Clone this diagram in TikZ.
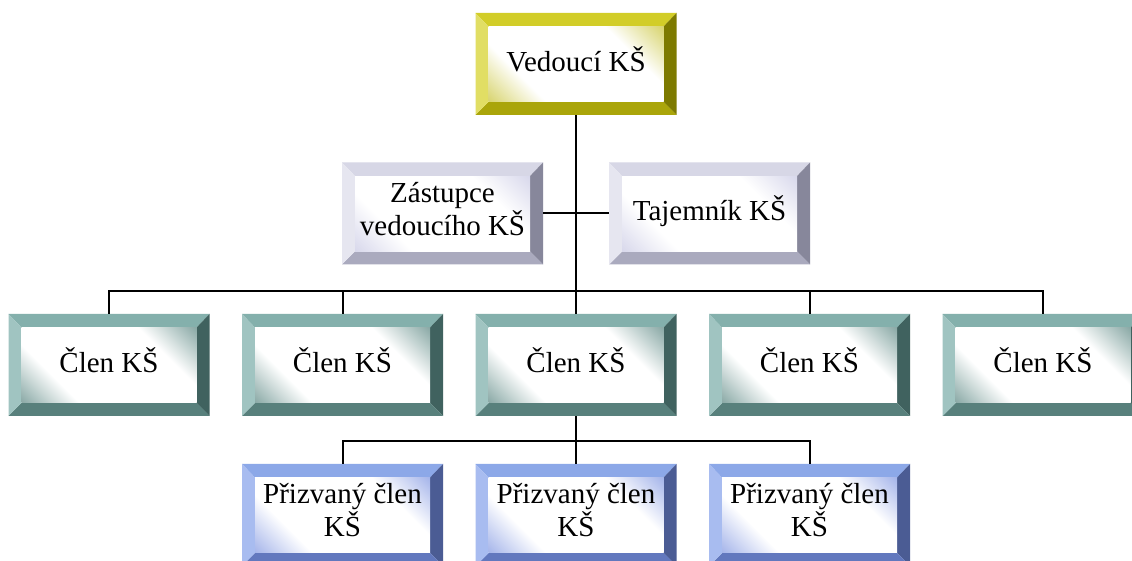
\documentclass[tikz,border=0pt]{standalone}
\usepackage{fontspec}
\setmainfont{Liberation Serif}
\usetikzlibrary{calc}
\definecolor{yT}{RGB}{210,205,40}
\definecolor{yL}{RGB}{225,222,100}
\definecolor{yR}{RGB}{125,122,0}
\definecolor{yB}{RGB}{170,165,10}
\definecolor{yM}{RGB}{205,200,70}
\definecolor{lT}{RGB}{215,215,230}
\definecolor{lL}{RGB}{230,230,240}
\definecolor{lR}{RGB}{135,135,155}
\definecolor{lB}{RGB}{170,170,190}
\definecolor{lM}{RGB}{205,205,230}
\definecolor{tT}{RGB}{132,176,172}
\definecolor{tL}{RGB}{160,196,193}
\definecolor{tR}{RGB}{64,98,95}
\definecolor{tB}{RGB}{88,128,124}
\definecolor{tM}{RGB}{105,145,141}
\definecolor{bT}{RGB}{140,168,232}
\definecolor{bL}{RGB}{168,188,240}
\definecolor{bR}{RGB}{75,92,148}
\definecolor{bB}{RGB}{98,120,190}
\definecolor{bM}{RGB}{140,160,228}
\colorlet{bevM}{tM}
\pgfdeclarehorizontalshading[bevM]{bevsh}{100bp}{color(0bp)=(bevM); color(10bp)=(bevM); color(31bp)=(white); color(69bp)=(white); color(90bp)=(bevM); color(100bp)=(bevM)}
\tikzset{
  bevbox/.style={minimum width=100.5pt, minimum height=51pt, inner sep=0pt,
    align=center, text=black, font=\fontsize{14.5pt}{16.5pt}\selectfont,
    execute at end node={\rule[-5pt]{0pt}{5pt}},
    path picture={
      \path (path picture bounding box.north west) coordinate (o1)
            (path picture bounding box.north east) coordinate (o2)
            (path picture bounding box.south east) coordinate (o3)
            (path picture bounding box.south west) coordinate (o4);
      \path ([shift={(6.5pt,-6.8pt)}]o1) coordinate (i1)
            ([shift={(-6.5pt,-6.8pt)}]o2) coordinate (i2)
            ([shift={(-6.5pt,6.5pt)}]o3) coordinate (i3)
            ([shift={(6.5pt,6.5pt)}]o4) coordinate (i4);
      \fill[bevT] (o1) -- (o2) -- (i2) -- (i1) -- cycle;
      \fill[bevR] (o2) -- (o3) -- (i3) -- (i2) -- cycle;
      \fill[bevB] (o3) -- (o4) -- (i4) -- (i3) -- cycle;
      \fill[bevL] (o4) -- (o1) -- (i1) -- (i4) -- cycle;
      \shade[shading=bevsh, shading angle=45] (i1) rectangle (i3);
    }},
  scheme/.style n args={5}{bevbox, /utils/exec={\colorlet{bevT}{#1}\colorlet{bevL}{#2}\colorlet{bevR}{#3}\colorlet{bevB}{#4}\colorlet{bevM}{#5}}},
  ybox/.style={scheme={yT}{yL}{yR}{yB}{yM}},
  lbox/.style={scheme={lT}{lL}{lR}{lB}{lM}},
  tbox/.style={scheme={tT}{tL}{tR}{tB}{tM}},
  bbox/.style={scheme={bT}{bL}{bR}{bB}{bM}},
  conn/.style={draw=black, line width=1pt}
}
\begin{document}
\begin{tikzpicture}[x=0.5pt, y=-0.5pt]
\clip (0,0) rectangle (1132,561);
\fill[white] (0,0) rectangle (1132,561);
\coordinate (bus1) at (576,291);
\coordinate (bus2) at (576,441);
% nodes
\node[ybox] (vedouci) at (576,64) {Vedoucí KŠ};
\node[lbox] (zast) at (442.5,213.5) {Zástupce\\vedoucího KŠ};
\node[lbox] (taj) at (709.5,213.5) {Tajemník KŠ};
\node[tbox] (c1) at (109,365) {Člen KŠ};
\node[tbox] (c2) at (342.5,365) {Člen KŠ};
\node[tbox] (c3) at (576,365) {Člen KŠ};
\node[tbox] (c4) at (809.5,365) {Člen KŠ};
\node[tbox] (c5) at (1043,365) {Člen KŠ};
\node[bbox] (p1) at (342.5,515) {Přizvaný člen\\KŠ};
\node[bbox] (p2) at (576,515) {Přizvaný člen\\KŠ};
\node[bbox] (p3) at (809.5,515) {Přizvaný člen\\KŠ};
% lines
\draw[conn] (vedouci.south) -- (c3.north);
\draw[conn] (zast.east) -- (taj.west);
\draw[conn] (c1.north) |- (bus1) -| (c5.north);
\draw[conn] (c2.north) -- (c2.north |- bus1);
\draw[conn] (c4.north) -- (c4.north |- bus1);
\draw[conn] (c3.south) -- (bus2);
\draw[conn] (p1.north) |- (bus2) -| (p3.north);
\draw[conn] (bus2) -- (p2.north);
\end{tikzpicture}
\end{document}
